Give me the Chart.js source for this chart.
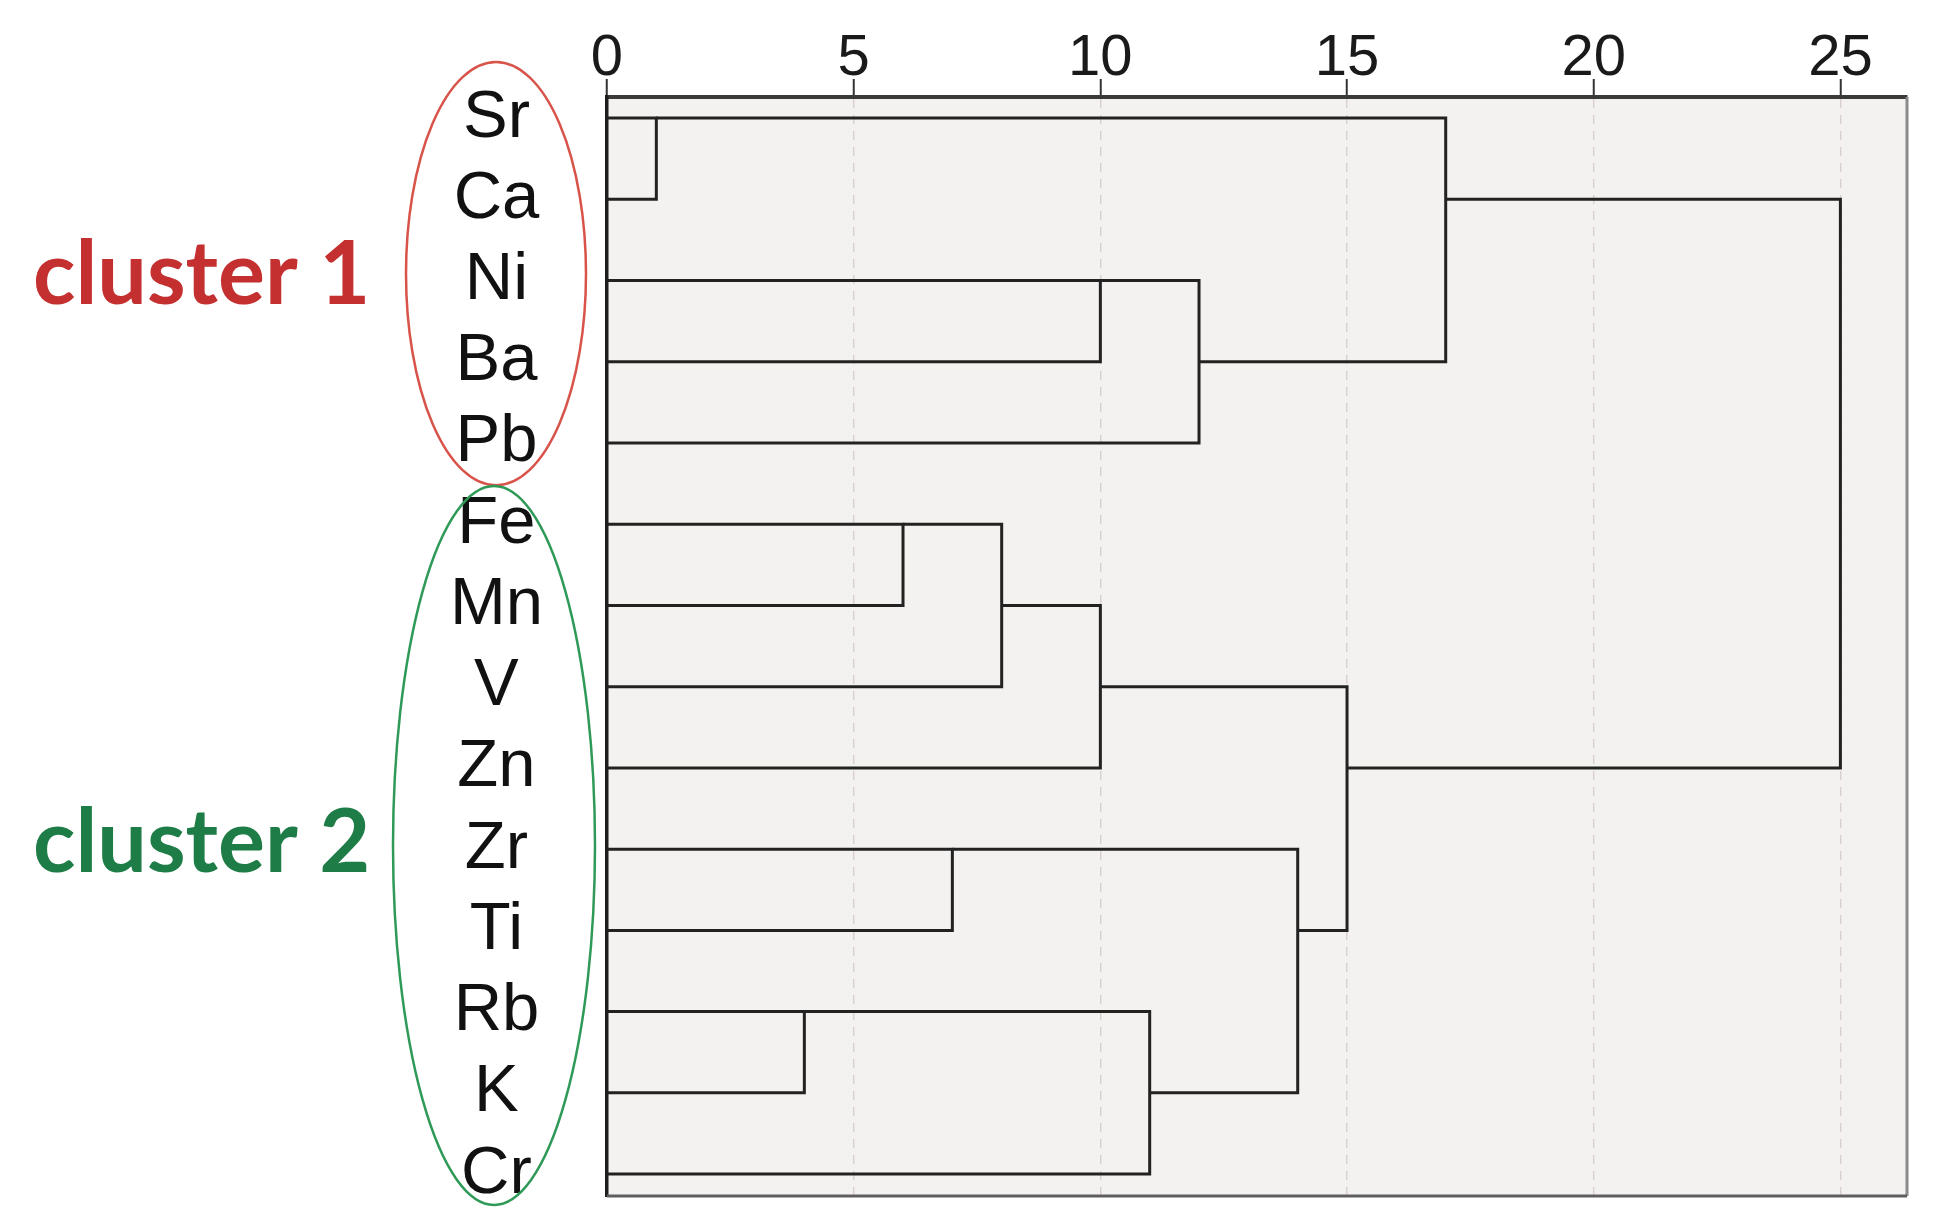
<!DOCTYPE html>
<html>
<head>
<meta charset="utf-8">
<script src="https://cdn.jsdelivr.net/npm/chart.js@4.4.1/dist/chart.umd.min.js"></script>
<style>
  html, body { margin: 0; padding: 0; background: #fff; }
  #wrap { width: 1938px; height: 1227px; }
</style>
</head>
<body>
<div id="wrap"><canvas id="dendro" width="1938" height="1227"></canvas></div>
<script>
'use strict';

// leaves in dendrogram order, top to bottom
const leaves = ['Sr', 'Ca', 'Ni', 'Ba', 'Pb', 'Fe', 'Mn', 'V', 'Zn', 'Zr', 'Ti', 'Rb', 'K', 'Cr'];

// merge steps: ids below 14 are leaves, 14 + k is the node made at step k
const mergeA = [0, 2, 15, 14, 5, 18, 19, 9, 11, 22, 21, 20, 17];
const mergeB = [1, 3, 4, 16, 6, 7, 8, 10, 12, 13, 23, 24, 25];
const mergeDist = [1, 10, 12, 17, 6, 8, 10, 7, 4, 11, 14, 15, 25];

// rescaled distance axis
const distTicks = [0, 5, 10, 15, 20, 25];
const distMax = 26.35;

// groups marked on the left
const clusterNames = ['cluster 1', 'cluster 2'];
const clusterFirst = [0, 5];
const clusterLast = [4, 13];

const textColors = ['#c3302f', '#1e7d46'];
const ringColors = ['#d8544a', '#2f9a58'];
const lineColor = '#222';

// every node gets a row (SPSS style: lower middle row of its children) and a distance
const nodeRow = leaves.map((_, i) => i);
const nodeDist = leaves.map(() => 0);

const datasets = mergeDist.map((d, k) => {
    const a = mergeA[k];
    const b = mergeB[k];
    const ra = nodeRow[a];
    const rb = nodeRow[b];
    nodeRow.push(Math.floor((ra + rb) / 2));
    nodeDist.push(d);
    return {
        data: [
            { x: nodeDist[a], y: ra },
            { x: d, y: ra },
            { x: d, y: rb },
            { x: nodeDist[b], y: rb }
        ],
        showLine: true,
        borderColor: lineColor,
        borderWidth: 3,
        borderJoinStyle: 'miter',
        pointRadius: 0,
        fill: false,
        tension: 0
    };
});

const clusterMarks = {
    id: 'clusterMarks',
    beforeDraw(chart) {
        const { ctx, chartArea: a } = chart;
        ctx.save();
        ctx.fillStyle = '#f4f2f0';
        ctx.fillRect(a.left, a.top, a.right - a.left, a.bottom - a.top);
        ctx.restore();
    },
    afterDraw(chart) {
        const { ctx, chartArea: a } = chart;
        const y = chart.scales.y;
        ctx.save();

        // right and bottom frame
        ctx.lineWidth = 3;
        ctx.strokeStyle = '#8a8a8a';
        ctx.beginPath();
        ctx.moveTo(a.right, a.top);
        ctx.lineTo(a.right, a.bottom);
        ctx.stroke();
        ctx.strokeStyle = '#5e5e5e';
        ctx.beginPath();
        ctx.moveTo(a.left, a.bottom);
        ctx.lineTo(a.right, a.bottom);
        ctx.stroke();

        // rings round the labels, and the group names
        const pad = [[0.69, 0.52], [0.47, 0.38]];
        const ringX = [111, 113];
        const ringW = [90, 101];
        clusterNames.forEach((name, c) => {
            const top = y.getPixelForValue(clusterFirst[c] - pad[c][0]);
            const bot = y.getPixelForValue(clusterLast[c] + pad[c][1]);
            ctx.lineWidth = 2.5;
            ctx.strokeStyle = ringColors[c];
            ctx.beginPath();
            ctx.ellipse(a.left - ringX[c], (top + bot) / 2, ringW[c], (bot - top) / 2, 0, 0, Math.PI * 2);
            ctx.stroke();

            const mid = Math.floor((clusterFirst[c] + clusterLast[c]) / 2);
            ctx.fillStyle = textColors[c];
            ctx.font = 'bold 88px Lato, "Open Sans", sans-serif';
            ctx.textAlign = 'left';
            ctx.textBaseline = 'alphabetic';
            ctx.fillText(name, 33, y.getPixelForValue(mid) + 23);
        });
        ctx.restore();
    }
};

new Chart(document.getElementById('dendro'), {
    type: 'scatter',
    data: { datasets },
    plugins: [clusterMarks],
    options: {
        responsive: false,
        animation: false,
        devicePixelRatio: 1,
        layout: { padding: { left: 0, top: 0, right: 31, bottom: 31 } },
        plugins: {
            legend: { display: false },
            tooltip: { enabled: false }
        },
        scales: {
            x: {
                type: 'linear',
                position: 'top',
                min: 0,
                max: distMax,
                afterFit: (s) => {
                    s.height = 97;
                    s.paddingLeft = 0;
                    s.paddingRight = 0;
                },
                afterBuildTicks: (s) => { s.ticks = distTicks.map(v => ({ value: v })); },
                ticks: {
                    autoSkip: false,
                    maxRotation: 0,
                    padding: -15,
                    color: '#1a1a1a',
                    font: { family: '"Liberation Sans", Arial, sans-serif', size: 58 }
                },
                grid: {
                    color: '#dccfcf',
                    lineWidth: 1.5,
                    borderDash: [9, 7],
                    tickLength: 18,
                    tickColor: '#333',
                    tickWidth: 2,
                    tickBorderDash: []
                },
                border: { display: true, color: '#3a3a3a', width: 4, dash: [9, 7] }
            },
            y: {
                type: 'linear',
                reverse: true,
                min: -0.26,
                max: 13.27,
                afterFit: (s) => {
                    s.width = 607;
                    s.paddingTop = 0;
                    s.paddingBottom = 0;
                },
                afterBuildTicks: (s) => { s.ticks = leaves.map((_, i) => ({ value: i })); },
                ticks: {
                    autoSkip: false,
                    crossAlign: 'center',
                    padding: 64,
                    color: '#111',
                    font: { family: '"Liberation Sans", Arial, sans-serif', size: 67 },
                    callback: (v) => leaves[Math.round(v)] ?? ''
                },
                grid: { drawOnChartArea: false, drawTicks: false, color: 'rgba(0,0,0,0)' },
                border: { display: true, color: '#1e1e1e', width: 3.5 }
            }
        }
    }
});
</script>
</body>
</html>
